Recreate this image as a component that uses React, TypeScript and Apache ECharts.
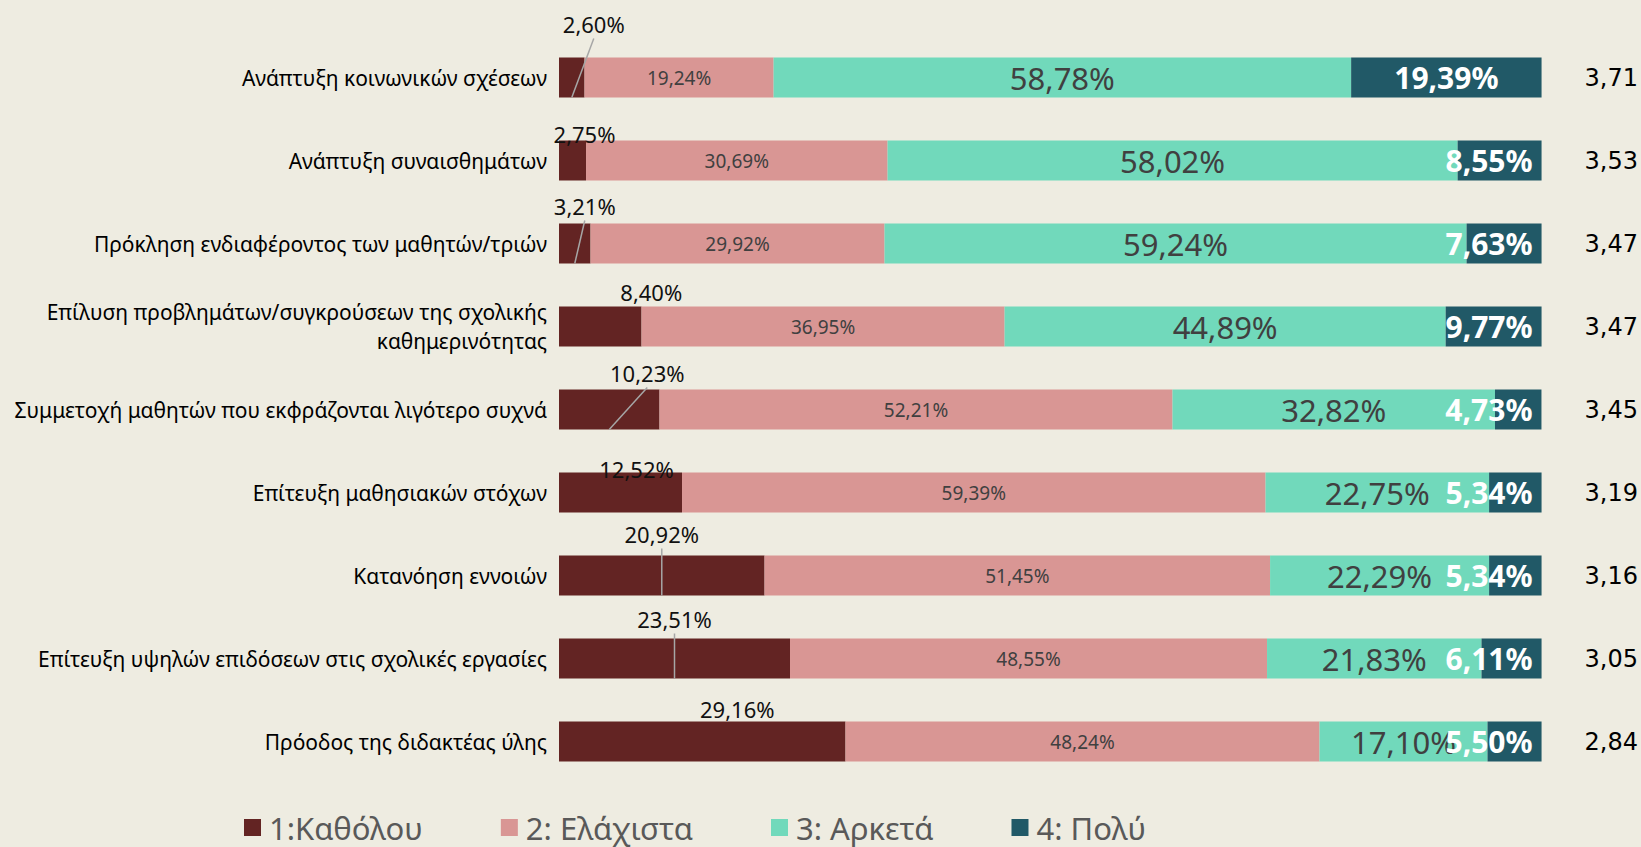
import React, { useEffect, useRef } from "react";
import * as echarts from "echarts";

const categories = [
  "Ανάπτυξη κοινωνικών σχέσεων",
  "Ανάπτυξη συναισθημάτων",
  "Πρόκληση ενδιαφέροντος των μαθητών/τριών",
  "Επίλυση προβλημάτων/συγκρούσεων της σχολικής\nκαθημερινότητας",
  "Συμμετοχή μαθητών που εκφράζονται λιγότερο συχνά",
  "Επίτευξη μαθησιακών στόχων",
  "Κατανόηση εννοιών",
  "Επίτευξη υψηλών επιδόσεων στις σχολικές εργασίες",
  "Πρόοδος της διδακτέας ύλης",
];
const seriesNames = ["1:Καθόλου", "2: Ελάχιστα", "3: Αρκετά", "4: Πολύ"];
const katholou = [2.6, 2.75, 3.21, 8.4, 10.23, 12.52, 20.92, 23.51, 29.16];
const elaxista = [19.24, 30.69, 29.92, 36.95, 52.21, 59.39, 51.45, 48.55, 48.24];
const arketa = [58.78, 58.02, 59.24, 44.89, 32.82, 22.75, 22.29, 21.83, 17.1];
const poly = [19.39, 8.55, 7.63, 9.77, 4.73, 5.34, 5.34, 6.11, 5.5];
const means = ["3,71", "3,53", "3,47", "3,47", "3,45", "3,19", "3,16", "3,05", "2,84"];

// label placement tweaks for the first series (as moved in the original)
const labelDx = [22, 12, 10, 51, 38, 16, 0, 0, 35];
const labelRise = [34, 7, 18, 15, 17, 4, 22, 20, 13];
const leaderRows = [0, 2, 4, 6, 7];

const colors = ["#632423", "#D99694", "#71D9BB", "#215967"];
const BG = "#EEECE1";
const FONT = "Noto Sans";

const fmt = (v: number) => v.toFixed(2).replace(".", ",") + "%";

export default function App() {
  const ref = useRef<HTMLDivElement>(null);
  useEffect(() => {
    if (!ref.current) return;
    const chart = echarts.init(ref.current, undefined, { renderer: "svg" });
    const BAR = 40;
    chart.setOption({
      animation: false,
      backgroundColor: BG,
      textStyle: { fontFamily: FONT },
      grid: { left: 559, right: 99, top: 36, bottom: 64, containLabel: false },
      legend: {
        data: seriesNames,
        left: 244,
        top: 812,
        padding: 0,
        itemWidth: 17,
        itemHeight: 17,
        itemGap: 78,
        icon: "rect",
        textStyle: {
          fontSize: 31,
          lineHeight: 30,
          color: "#595959",
          fontFamily: FONT,
          padding: [0, 0, 0, 3],
        },
      },
      xAxis: { type: "value", min: 0, max: 100, show: false },
      yAxis: [
        {
          type: "category",
          data: categories,
          inverse: true,
          axisLine: { show: false },
          axisTick: { show: false },
          splitLine: { show: false },
          axisLabel: { fontSize: 21, color: "#000", margin: 12, lineHeight: 29, align: "right" },
        },
        {
          type: "category",
          data: means,
          inverse: true,
          position: "right",
          axisLine: { show: false },
          axisTick: { show: false },
          splitLine: { show: false },
          axisLabel: {
            fontSize: 24,
            color: "#000",
            margin: 43,
            align: "left",
            fontFamily: "DejaVu Sans",
          },
        },
      ],
      series: [
        {
          name: seriesNames[0],
          type: "bar",
          stack: "a",
          barWidth: BAR,
          data: katholou,
          itemStyle: { color: colors[0] },
          label: {
            show: true,
            position: "top",
            formatter: (p: any) => fmt(p.value),
            fontSize: 22,
            color: "#111",
          },
          labelLayout: (params: any) => {
            const i = params.dataIndex;
            return {
              x: params.rect.x + params.rect.width / 2 + labelDx[i],
              y: params.rect.y - labelRise[i],
              align: "center",
              verticalAlign: "middle",
            };
          },
        },
        {
          name: seriesNames[1],
          type: "bar",
          stack: "a",
          barWidth: BAR,
          data: elaxista,
          itemStyle: { color: colors[1] },
          label: {
            show: true,
            position: "inside",
            formatter: (p: any) => fmt(p.value),
            fontSize: 19,
            color: "#404040",
          },
        },
        {
          name: seriesNames[2],
          type: "bar",
          stack: "a",
          barWidth: BAR,
          data: arketa,
          itemStyle: { color: colors[2] },
          label: {
            show: true,
            position: "inside",
            formatter: (p: any) => fmt(p.value),
            fontSize: 31,
            color: "#404040",
          },
        },
        {
          name: seriesNames[3],
          type: "bar",
          stack: "a",
          barWidth: BAR,
          data: poly.map((v) => ({
            value: v,
            label: { position: v > 12 ? "inside" : "insideRight" },
          })),
          itemStyle: { color: colors[3] },
          label: {
            show: true,
            position: "inside",
            distance: 9,
            formatter: (p: any) => fmt(p.value),
            fontSize: 30,
            fontWeight: "bold",
            color: "#fff",
          },
        },
        {
          type: "custom",
          z: 10,
          silent: true,
          data: leaderRows.map((i) => [katholou[i], i]),
          renderItem: (params: any, api: any) => {
            const v = api.value(0);
            const i = api.value(1);
            const c = api.coord([v / 2, i]);
            return {
              type: "line",
              shape: {
                x1: c[0] + labelDx[i],
                y1: c[1] - BAR / 2 - labelRise[i] + 15,
                x2: c[0],
                y2: c[1] + BAR / 2,
              },
              style: { stroke: "#A6A6A6", lineWidth: 1.5 },
            };
          },
        },
      ],
    });
    return () => chart.dispose();
  }, []);
  return (
    <div
      ref={ref}
      style={{ position: "absolute", left: 0, top: 0, width: 1641, height: 847, background: BG }}
    />
  );
}
